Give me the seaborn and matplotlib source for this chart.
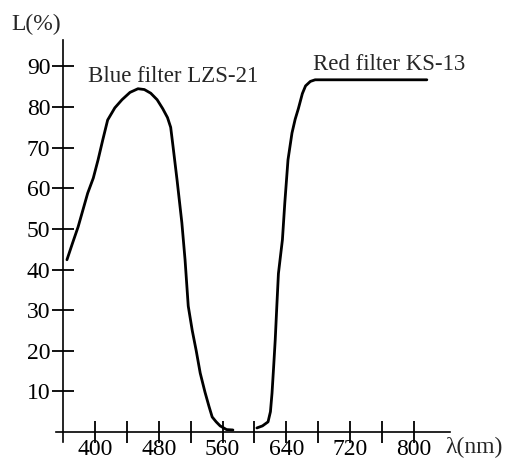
import pandas as pd
import matplotlib
matplotlib.use('Agg')
import matplotlib.pyplot as plt
import seaborn as sns

# Transmission curves
blue_wavelength = [365, 372, 379, 391, 398, 404, 410, 416, 425, 434, 444, 454, 462, 470,
                   478, 485, 491, 495, 498, 503, 509, 513, 517, 522, 527, 532, 538, 543,
                   547, 552, 557, 565, 573]
blue_transmission = [42.4, 46.5, 50.5, 58.8, 62.5, 67.0, 72.0, 76.8, 79.8, 81.8, 83.6, 84.5,
                     84.3, 83.4, 81.8, 79.6, 77.4, 75.0, 70.2, 62.0, 51.5, 42.4, 31.0, 25.0,
                     20.0, 14.5, 9.8, 6.3, 3.7, 2.5, 1.5, 0.6, 0.5]

red_wavelength = [603, 610, 617, 620, 622, 624, 626, 628, 630, 633, 635, 638, 642, 647,
                  651, 655, 660, 664, 670, 676, 700, 740, 780, 816]
red_transmission = [1.0, 1.5, 2.5, 5.0, 9.6, 16.0, 22.7, 31.0, 39.0, 44.0, 47.3, 56.4, 67.0,
                    73.6, 77.0, 79.6, 83.3, 85.2, 86.3, 86.7, 86.7, 86.7, 86.7, 86.7]

x_ticks = [400, 440, 480, 520, 560, 600, 640, 680, 720, 760, 800]
x_tick_labels = ['400', '', '480', '', '560', '', '640', '', '720', '', '800']
y_ticks = [10, 20, 30, 40, 50, 60, 70, 80, 90]

blue = pd.DataFrame({'wavelength': blue_wavelength, 'L': blue_transmission})
red = pd.DataFrame({'wavelength': red_wavelength, 'L': red_transmission})

sns.set_style('white')
plt.rcParams['font.family'] = ['Liberation Serif', 'DejaVu Serif']

fig = plt.figure(figsize=(5.08, 4.66), dpi=100)
ax = fig.add_axes([0.1098, 0.0515, 0.776, 0.8627])

sns.lineplot(data=blue, x='wavelength', y='L', color='black', linewidth=2.0,
             estimator=None, sort=False, ax=ax)
sns.lineplot(data=red, x='wavelength', y='L', color='black', linewidth=2.0,
             estimator=None, sort=False, ax=ax)

ax.set_xlim(351, 845)
ax.set_ylim(-2.46, 96.5)

# axes cross at (360, 0) like the hand-drawn original
ax.spines['left'].set_position(('data', 360))
ax.spines['bottom'].set_position(('data', 0))
ax.spines['right'].set_visible(False)
ax.spines['top'].set_visible(False)
for s in ['left', 'bottom']:
    ax.spines[s].set_linewidth(1.2)
    ax.spines[s].set_color('black')

ax.set_xticks(x_ticks)
ax.set_xticklabels(x_tick_labels)
ax.set_yticks(y_ticks)
ax.tick_params(axis='both', direction='inout', length=16, width=1.3, color='black',
               labelsize=17, labelcolor='black', bottom=True, left=True)
ax.tick_params(axis='x', pad=-3)
ax.tick_params(axis='y', pad=1)
ax.set_xlabel('')
ax.set_ylabel('')

ax.text(391, 86.2, 'Blue filter LZS-21', fontsize=16.5, va='baseline', ha='left')
ax.text(673.5, 89.2, 'Red filter KS-13', fontsize=16.5, va='baseline', ha='left')

fig.text(0.071, 0.948, 'L(%)', fontsize=17, ha='center', va='center')
fig.text(0.933, 0.039, 'λ(nm)', fontsize=17, ha='center', va='center')

fig.savefig('out.png', dpi=100)
